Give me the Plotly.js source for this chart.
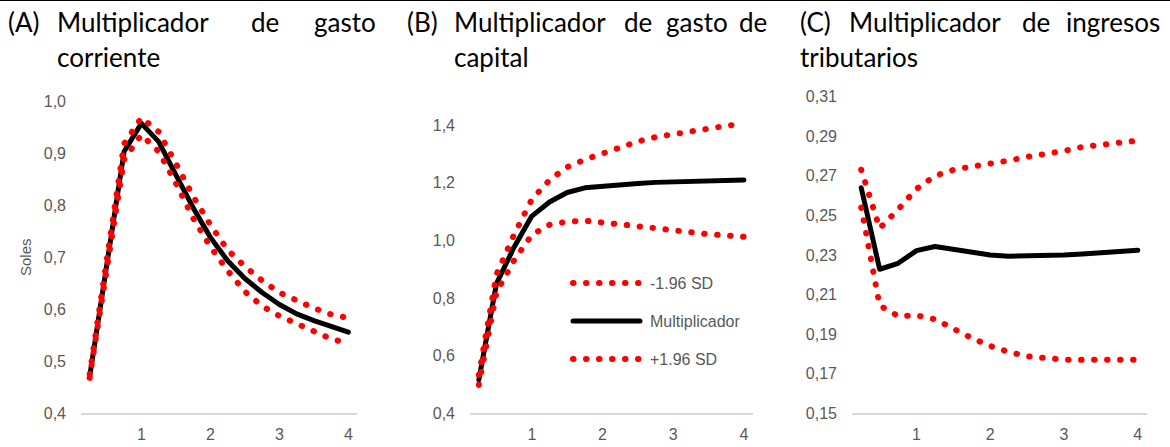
<!DOCTYPE html>
<html>
<head>
<meta charset="utf-8">
<script src="https://cdn.plot.ly/plotly-3.0.1.min.js"></script>
<style>
  html, body { margin: 0; padding: 0; background: #fff; }
  #chart { width: 1170px; height: 447px; }
  .js-line { stroke-linecap: round; stroke-linejoin: round; }
  .shapelayer path { stroke-linecap: round; }
</style>
</head>
<body>
<div id="chart"></div>
<script>
// ---------- DATA ----------
const periods = [0.25, 0.5, 0.75, 1, 1.25, 1.5, 1.75, 2, 2.25, 2.5, 2.75, 3, 3.25, 3.5, 3.75, 4];
const xTickVals = [1, 2, 3, 4];
const xTickText = ['1', '2', '3', '4'];

const seriesNames = ['-1.96 SD', 'Multiplicador', '+1.96 SD'];

// (A) Multiplicador de gasto corriente
const A_lower = [0.468, 0.680, 0.888, 0.935, 0.903, 0.842, 0.775, 0.720, 0.674, 0.634, 0.606, 0.587, 0.572, 0.556, 0.543, 0.534];
const A_mult  = [0.470, 0.690, 0.903, 0.957, 0.922, 0.858, 0.795, 0.738, 0.693, 0.659, 0.632, 0.609, 0.591, 0.578, 0.567, 0.556];
const A_upper = [0.475, 0.700, 0.918, 0.968, 0.941, 0.880, 0.817, 0.762, 0.714, 0.682, 0.655, 0.632, 0.616, 0.602, 0.590, 0.583];

// (B) Multiplicador de gasto de capital
const B_lower = [0.498, 0.820, 0.931, 1.019, 1.054, 1.065, 1.068, 1.063, 1.056, 1.049, 1.042, 1.034, 1.028, 1.021, 1.017, 1.012];
const B_mult  = [0.516, 0.850, 0.977, 1.084, 1.133, 1.166, 1.182, 1.188, 1.194, 1.197, 1.201, 1.203, 1.204, 1.206, 1.208, 1.209];
const B_upper = [0.533, 0.882, 1.021, 1.142, 1.209, 1.254, 1.280, 1.301, 1.324, 1.343, 1.358, 1.369, 1.380, 1.389, 1.397, 1.405];

// (C) Multiplicador de ingresos tributarios
const C_lower = [0.254, 0.2045, 0.1992, 0.1995, 0.1975, 0.1925, 0.188, 0.184, 0.181, 0.1788, 0.1776, 0.1771, 0.177, 0.177, 0.177, 0.177];
const C_mult  = [0.264, 0.2228, 0.2258, 0.2322, 0.2343, 0.2329, 0.2314, 0.2300, 0.2294, 0.2294, 0.2295, 0.2300, 0.2305, 0.2312, 0.2317, 0.2324];
const C_upper = [0.2731, 0.2435, 0.253, 0.2634, 0.270, 0.273, 0.2747, 0.276, 0.2777, 0.2796, 0.281, 0.2826, 0.2846, 0.2858, 0.2867, 0.2878];

const yTicksA = [0.4, 0.5, 0.6, 0.7, 0.8, 0.9, 1.0];
const yTicksB = [0.4, 0.6, 0.8, 1.0, 1.2, 1.4];
const yTicksC = [0.15, 0.17, 0.19, 0.21, 0.23, 0.25, 0.27, 0.29, 0.31];
const yTitleA = 'Soles';

// ---------- STYLE / LAYOUT ----------
const W = 1170, H = 447;
const px = v => v / W;
const py = v => 1 - v / H;

const RED = '#FF0000', BLACK = '#000000', GREY = '#595959';
const DOT = '0.5px,12.5px';
const tickFont = { family: '"Liberation Sans Narrow", "Arial Narrow", "Liberation Sans", Arial, sans-serif', size: 16, color: GREY };
const titleFont = { family: 'Lato, Carlito, Calibri, "Noto Sans", sans-serif', size: 26, color: '#000000' };

function panelTraces(lower, mult, upper, xa, ya) {
  return [
    { x: periods, y: mult, xaxis: xa, yaxis: ya, type: 'scatter', mode: 'lines', name: seriesNames[1],
      line: { color: BLACK, width: 5 }, hoverinfo: 'skip' },
    { x: periods, y: lower, xaxis: xa, yaxis: ya, type: 'scatter', mode: 'lines', name: seriesNames[0],
      line: { color: RED, width: 6, dash: DOT }, hoverinfo: 'skip' },
    { x: periods, y: upper, xaxis: xa, yaxis: ya, type: 'scatter', mode: 'lines', name: seriesNames[2],
      line: { color: RED, width: 6, dash: DOT }, hoverinfo: 'skip' }
  ];
}

const data = [].concat(
  panelTraces(A_lower, A_mult, A_upper, 'x', 'y'),
  panelTraces(B_lower, B_mult, B_upper, 'x2', 'y2'),
  panelTraces(C_lower, C_mult, C_upper, 'x3', 'y3')
);

function xAxis(d0, d1, anchor) {
  return {
    domain: [px(d0), px(d1)], anchor: anchor, range: [0.125, 4.125],
    tickmode: 'array', tickvals: xTickVals, ticktext: xTickText,
    showgrid: false, zeroline: false, showline: true, linecolor: '#d9d9d9', linewidth: 2,
    ticks: '', ticklabelstandoff: 5, tickfont: tickFont, fixedrange: true
  };
}
function yAxis(top, range, tickvals, fmt, anchor) {
  return {
    domain: [py(413.3), py(top)], anchor: anchor, range: range,
    tickmode: 'array', tickvals: tickvals, tickformat: fmt,
    showgrid: false, zeroline: false, showline: false,
    ticks: '', ticklabelstandoff: 14, tickfont: tickFont, fixedrange: true
  };
}

const annotations = [];
function word(text, xLeft, yMid) {
  annotations.push({ text: text, xref: 'paper', yref: 'paper', x: px(xLeft), y: py(yMid),
    xanchor: 'left', yanchor: 'middle', showarrow: false, font: titleFont });
}
// Panel A title (justified line 1, hanging line 2)
word('(A)', 6, 22); word('Multiplicador', 55, 22); word('de', 249, 22); word('gasto', 312, 22);
word('corriente', 55, 57);
// Panel B title
word('(B)', 405, 22); word('Multiplicador', 452, 22); word('de', 622, 22); word('gasto', 664, 22); word('de', 737, 22);
word('capital', 452, 57);
// Panel C title
word('(C)', 798, 22); word('Multiplicador', 847, 22); word('de', 1020, 22); word('ingresos', 1064, 22);
word('tributarios', 798, 57);

// y-axis title for panel A
annotations.push({ text: yTitleA, xref: 'paper', yref: 'paper', x: px(25), y: py(257),
  xanchor: 'center', yanchor: 'middle', textangle: -90, showarrow: false,
  font: { family: tickFont.family, size: 15, color: GREY } });

// Legend (inside panel B)
const legendRows = [283, 321, 359];
const shapes = [];
const legendStyles = [
  { color: RED, width: 6, dash: DOT },
  { color: BLACK, width: 5, dash: 'solid' },
  { color: RED, width: 6, dash: DOT }
];
seriesNames.forEach((name, i) => {
  shapes.push({ type: 'line', xref: 'paper', yref: 'paper', x0: px(573), x1: px(640),
    y0: py(legendRows[i]), y1: py(legendRows[i]), line: legendStyles[i] });
  annotations.push({ text: name, xref: 'paper', yref: 'paper', x: px(648), y: py(legendRows[i]),
    xanchor: 'left', yanchor: 'middle', showarrow: false, font: tickFont });
});
// thin top border
shapes.push({ type: 'line', xref: 'paper', yref: 'paper', x0: 0, x1: 1, y0: py(0.5), y1: py(0.5),
  line: { color: '#000000', width: 1 } });

// Panel B: 1.4 sits at y=125px; range extended to 1.45 so the top band is not clipped
const B_top = 125 - 0.05 * (413.3 - 125) / 1.0;

const layout = {
  width: W, height: H,
  margin: { l: 0, r: 0, t: 0, b: 0 },
  paper_bgcolor: '#ffffff', plot_bgcolor: '#ffffff',
  separators: ',.',
  showlegend: false,
  xaxis: xAxis(81, 357, 'y'),
  yaxis: yAxis(101, [0.4, 1.0], yTicksA, '.1f', 'x'),
  xaxis2: xAxis(470, 752.7, 'y2'),
  yaxis2: yAxis(B_top, [0.4, 1.45], yTicksB, '.1f', 'x2'),
  xaxis3: xAxis(852, 1147, 'y3'),
  yaxis3: yAxis(96.7, [0.15, 0.31], yTicksC, '.2f', 'x3'),
  annotations: annotations,
  shapes: shapes
};

Plotly.newPlot('chart', data, layout, { staticPlot: true, displayModeBar: false });
</script>
</body>
</html>
